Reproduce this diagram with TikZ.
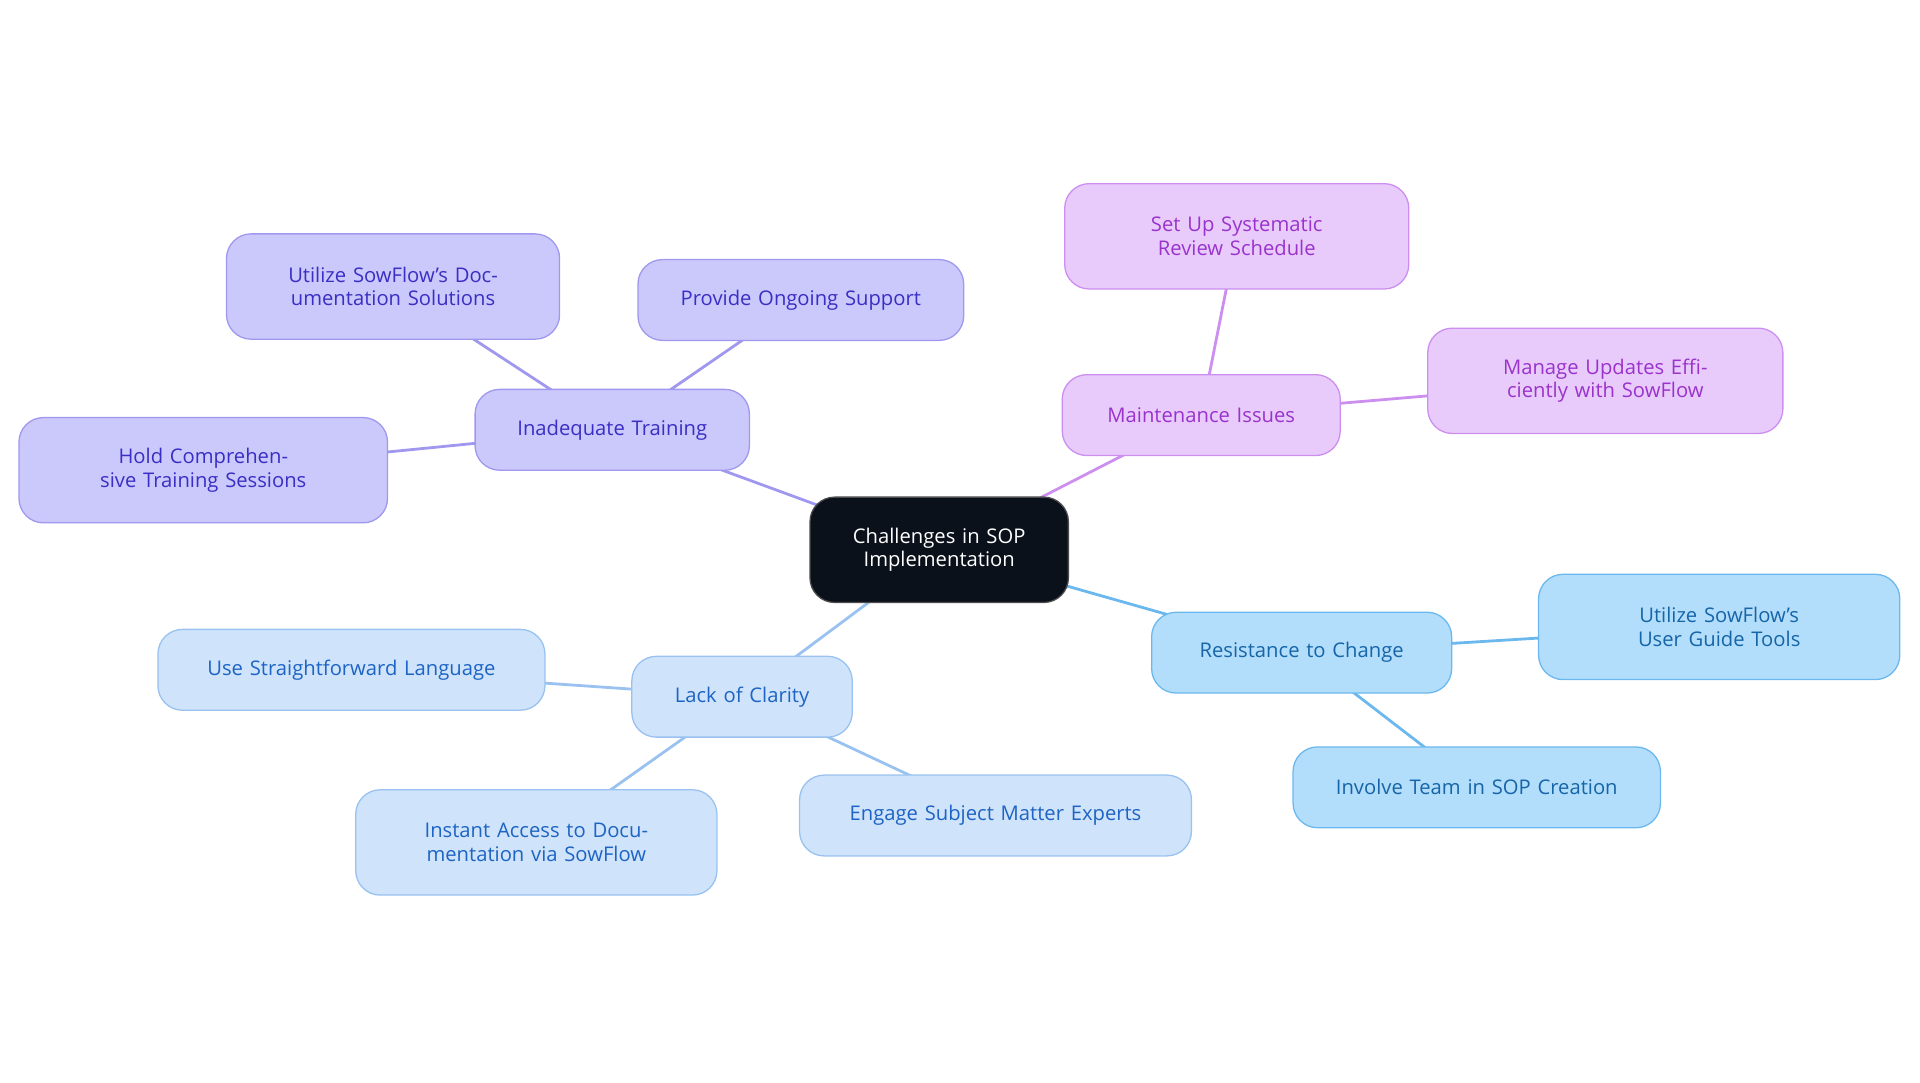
\documentclass[tikz,border=0pt]{standalone}
\usepackage{fontspec}
\setmainfont{Open Sans}
\usetikzlibrary{backgrounds}
\definecolor{cdark}{HTML}{0B111B}
\definecolor{pf}{HTML}{CBC9FB}\definecolor{pd}{HTML}{9F98EE}\definecolor{pt}{HTML}{3A2EC4}
\definecolor{mf}{HTML}{E8CBFB}\definecolor{md}{HTML}{CC8FEF}\definecolor{mt}{HTML}{9A33CC}
\definecolor{bf}{HTML}{B3DEFB}\definecolor{bd}{HTML}{6BB8EE}\definecolor{bt}{HTML}{1565A8}
\definecolor{lf}{HTML}{CFE3FA}\definecolor{ld}{HTML}{99C2F0}\definecolor{lt}{HTML}{1D64C4}
\begin{document}
\begin{tikzpicture}[x=0.02cm,y=-0.02cm,
  box/.style={rounded corners=0.4cm,draw,line width=0.6pt,align=center,inner sep=0pt,font=\fontsize{9.4}{11}\selectfont},
  bx/.style args={#1/#2/#3}{box,minimum width=#1*0.02cm,minimum height=#2*0.02cm,text width=#3*0.02cm},
  pb/.style={fill=pf,draw=pd,text=pt},
  mb/.style={fill=mf,draw=md,text=mt},
  bb/.style={fill=bf,draw=bd,text=bt},
  lb/.style={fill=lf,draw=ld,text=lt},
  ed/.style={line width=1.3pt}]
\useasboundingbox (0,0) rectangle (1568,884);
\node[bx=211/86/180,fill=cdark,draw=gray!60!black,text=white] (c) at (767,449) {Challenges in SOP Implementation};
\node[bx=224/66/210,pb] (it) at (500,351) {Inadequate Training};
\node[bx=272/86/240,pb] (it1) at (321,234) {Utilize SowFlow's Documentation Solutions};
\node[bx=266/66/250,pb] (it2) at (654,245) {Provide Ongoing Support};
\node[bx=301/86/270,pb] (it3) at (166,384) {Hold Comprehensive Training Sessions};
\node[bx=227/66/210,mb] (mi) at (981,339) {Maintenance Issues};
\node[bx=281/86/250,mb] (mi1) at (1010,193) {Set Up Systematic Review Schedule};
\node[bx=290/86/250,mb] (mi2) at (1311,311) {Manage Updates Efficiently with SowFlow};
\node[bx=245/66/230,bb] (rc) at (1063,533) {Resistance to Change};
\node[bx=295/86/260,bb] (rc1) at (1404,512) {Utilize SowFlow's User Guide Tools};
\node[bx=300/66/280,bb] (rc2) at (1206,643) {Involve Team in SOP Creation};
\node[bx=180/66/170,lb] (lc) at (606,569) {Lack of Clarity};
\node[bx=316/66/300,lb] (lc1) at (287,547) {Use Straightforward Language};
\node[bx=295/86/260,lb] (lc2) at (438,688) {Instant Access to Documentation via SowFlow};
\node[bx=320/66/300,lb] (lc3) at (813,666) {Engage Subject Matter Experts};
\begin{scope}[on background layer]
\draw[ed,pd] (c.center)--(it.center) (it.center)--(it1.center) (it.center)--(it2.center) (it.center)--(it3.center);
\draw[ed,md] (c.center)--(mi.center) (mi.center)--(mi1.center) (mi.center)--(mi2.center);
\draw[ed,bd] (c.center)--(rc.center) (rc.center)--(rc1.center) (rc.center)--(rc2.center);
\draw[ed,ld] (c.center)--(lc.center) (lc.center)--(lc1.center) (lc.center)--(lc2.center) (lc.center)--(lc3.center);
\end{scope}
\end{tikzpicture}
\end{document}
